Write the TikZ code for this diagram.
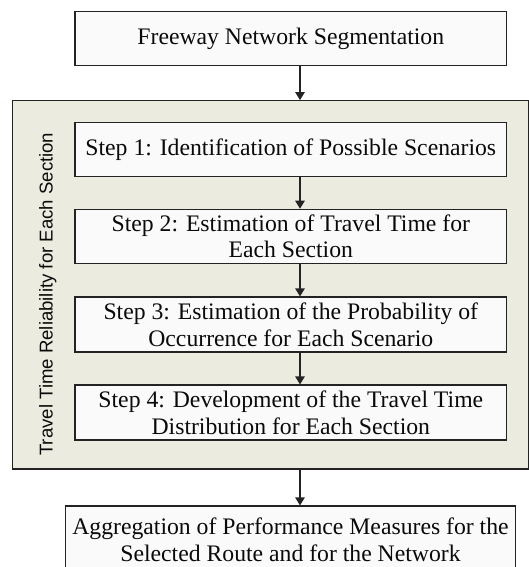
\documentclass[tikz,border=0pt]{standalone}
\usepackage{fontspec}
\setmainfont{Liberation Serif}
\newfontfamily\labelfont{Liberation Sans}
\usetikzlibrary{arrows.meta}

\definecolor{edgecol}{RGB}{35,35,35}
\definecolor{boxfill}{RGB}{250,250,250}
\definecolor{panelfill}{RGB}{235,235,224}
\definecolor{textcol}{RGB}{10,10,10}

\tikzset{
  stepbox/.style={draw=edgecol, fill=boxfill, line width=1.2pt, inner sep=0pt,
    align=center, text=textcol, minimum width=431.7pt,
    font=\fontsize{23.7}{26.7}\selectfont},
  panelbox/.style={draw=edgecol, fill=panelfill, line width=1.2pt, inner sep=0pt},
  flow/.style={draw=edgecol, line width=1.2pt,
    -{Triangle[length=8pt,width=9.5pt]}},
}

\begin{document}
\begin{tikzpicture}[x=1pt,y=-1pt]
\useasboundingbox (0,0) rectangle (529,567);

% outer panel grouping the four steps
\node[panelbox, minimum width=515.8pt, minimum height=368.3pt] (panel) at (270.4,284.85) {};

% vertical caption of the panel
\node[rotate=90, anchor=base, inner sep=0pt, text=textcol,
  font=\labelfont\fontsize{18.6}{20}\selectfont] (lbl) at (52.5,294.2)
  {Travel Time Reliability for Each Section};

% process boxes
\node[stepbox, minimum height=53.7pt] (seg) at (290.8,38.7) {Freeway Network Segmentation};
\node[stepbox, minimum height=54.4pt] (s1) at (290.8,149.5) {Step 1: Identification of Possible Scenarios};
\node[stepbox, minimum height=54pt] (s2) at (290.8,236.3) {Step 2: Estimation of Travel Time for\\Each Section};
\node[stepbox, minimum height=55pt] (s3) at (290.8,324.5) {Step 3: Estimation of the Probability of\\Occurrence for Each Scenario};
\node[stepbox, minimum height=55pt] (s4) at (290.8,412.5) {Step 4: Development of the Travel Time\\Distribution for Each Section};
\node[stepbox, minimum width=449.6pt, minimum height=67pt] (agg) at (290.5,539.5)
  {Aggregation of Performance Measures for the\\Selected Route and for the Network};

% connectors (slightly right of the box centres)
\def\ax{9.2pt}
\draw[flow] ([xshift=\ax]seg.south) -- ([xshift=\ax]seg.south |- panel.north);
\draw[flow] ([xshift=\ax]s1.south) -- ([xshift=\ax]s2.north);
\draw[flow] ([xshift=\ax]s2.south) -- ([xshift=\ax]s3.north);
\draw[flow] ([xshift=\ax]s3.south) -- ([xshift=\ax]s4.north);
\draw[flow] ([xshift=9.5pt]agg.north |- panel.south) -- ([xshift=9.5pt]agg.north);
\end{tikzpicture}
\end{document}
